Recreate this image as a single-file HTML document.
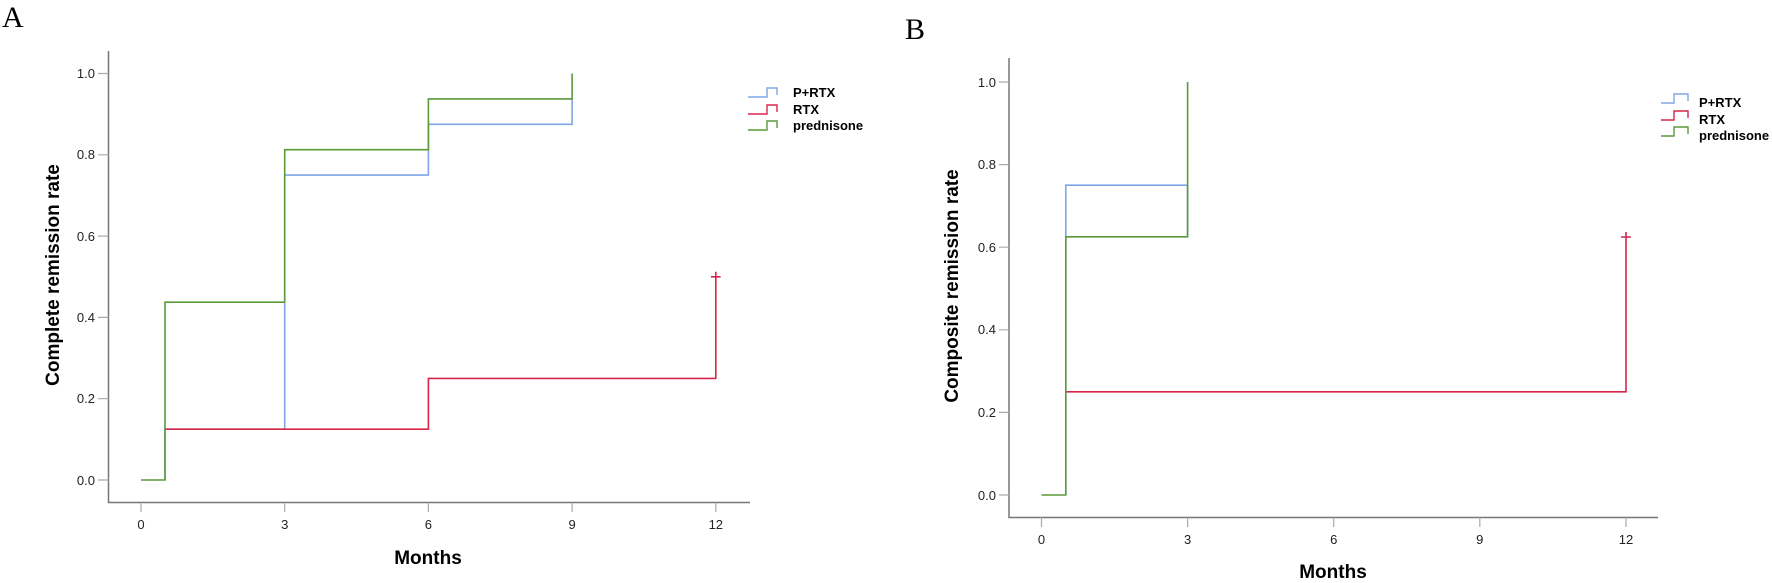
<!DOCTYPE html>
<html><head><meta charset="utf-8"><style>
html,body{margin:0;padding:0;background:#fff;}
svg{display:block;}
.t{font-family:"Liberation Sans",Arial,sans-serif;font-size:13px;fill:#222;}
.ti{font-family:"Liberation Sans",Arial,sans-serif;font-size:19px;font-weight:bold;fill:#000;}
.lg{font-family:"Liberation Sans",Arial,sans-serif;font-size:13px;font-weight:bold;fill:#000;}
.pl{font-family:"Liberation Serif","Times New Roman",serif;font-size:30px;fill:#000;}
</style></head><body>
<svg width="1772" height="583" viewBox="0 0 1772 583" xmlns="http://www.w3.org/2000/svg">
<!-- Panel A -->
<text class="pl" x="2" y="27">A</text>
<g stroke="#777" stroke-width="1.5" fill="none">
<path d="M108.5 51 V502.5 H750"/>
</g>
<g stroke="#aaa" stroke-width="1.2">
<path d="M98 73.5H108.5M98 154.8H108.5M98 236.1H108.5M98 317.4H108.5M98 398.7H108.5M98 480H108.5"/>
<path d="M141 502.5V512M284.7 502.5V512M428.4 502.5V512M572.1 502.5V512M715.8 502.5V512"/>
</g>
<g class="t" text-anchor="end">
<text x="95" y="78">1.0</text><text x="95" y="159">0.8</text><text x="95" y="241">0.6</text>
<text x="95" y="322">0.4</text><text x="95" y="403">0.2</text><text x="95" y="485">0.0</text>
</g>
<g class="t" text-anchor="middle">
<text x="141" y="529">0</text><text x="284.7" y="529">3</text><text x="428.4" y="529">6</text>
<text x="572.1" y="529">9</text><text x="715.8" y="529">12</text>
</g>
<text class="ti" x="428" y="564" text-anchor="middle">Months</text>
<text class="ti" transform="translate(59,275) rotate(-90)" text-anchor="middle">Complete remission rate</text>
<g fill="none" stroke-width="1.6">
<path stroke="#7ea6e6" d="M165 480V429.2H284.7V175.1H428.4V124.3H572.1V98.9"/>
<path stroke="#d6264a" d="M165 429.2H428.4V378.4H715.8V271.8M711 276.8H720.6"/>
<path stroke="#5a9a3a" d="M141 480H165V302.2H284.7V149.7H428.4V98.9H572.1V73.5"/>
</g>
<g fill="none" stroke-width="1.4">
<path stroke="#7ea6e6" d="M748 97H767V88H777V95"/>
<path stroke="#d6264a" d="M748 114H767V105H777V112"/>
<path stroke="#5a9a3a" d="M748 130H767V121H777V128"/>
</g>
<g class="lg"><text x="793" y="97">P+RTX</text><text x="793" y="114">RTX</text><text x="793" y="130">prednisone</text></g>

<!-- Panel B -->
<text class="pl" x="905" y="39">B</text>
<g stroke="#777" stroke-width="1.5" fill="none">
<path d="M1009 58V517.5H1658"/>
</g>
<g stroke="#aaa" stroke-width="1.2">
<path d="M999 82H1009M999 164.6H1009M999 247.2H1009M999 329.8H1009M999 412.4H1009M999 495H1009"/>
<path d="M1041.5 517.5V527M1187.6 517.5V527M1333.7 517.5V527M1479.8 517.5V527M1626 517.5V527"/>
</g>
<g class="t" text-anchor="end">
<text x="996" y="87">1.0</text><text x="996" y="169">0.8</text><text x="996" y="252">0.6</text>
<text x="996" y="334">0.4</text><text x="996" y="417">0.2</text><text x="996" y="500">0.0</text>
</g>
<g class="t" text-anchor="middle">
<text x="1041.5" y="544">0</text><text x="1187.6" y="544">3</text><text x="1333.7" y="544">6</text>
<text x="1479.8" y="544">9</text><text x="1626" y="544">12</text>
</g>
<text class="ti" x="1333" y="578" text-anchor="middle">Months</text>
<text class="ti" transform="translate(958,286) rotate(-90)" text-anchor="middle">Composite remission rate</text>
<g fill="none" stroke-width="1.6">
<path stroke="#7ea6e6" d="M1065.8 495V185.2H1187.6V236.8"/>
<path stroke="#d6264a" d="M1065.8 391.8H1626V232M1621 237H1631"/>
<path stroke="#5a9a3a" d="M1041.5 495H1065.8V236.8H1187.6V82"/>
</g>
<g fill="none" stroke-width="1.4">
<path stroke="#7ea6e6" d="M1661 103H1674V94H1688V101"/>
<path stroke="#d6264a" d="M1661 120H1674V111H1688V118"/>
<path stroke="#5a9a3a" d="M1661 136H1674V127H1688V134"/>
</g>
<g class="lg"><text x="1699" y="107">P+RTX</text><text x="1699" y="124">RTX</text><text x="1699" y="140">prednisone</text></g>
</svg>
</body></html>
